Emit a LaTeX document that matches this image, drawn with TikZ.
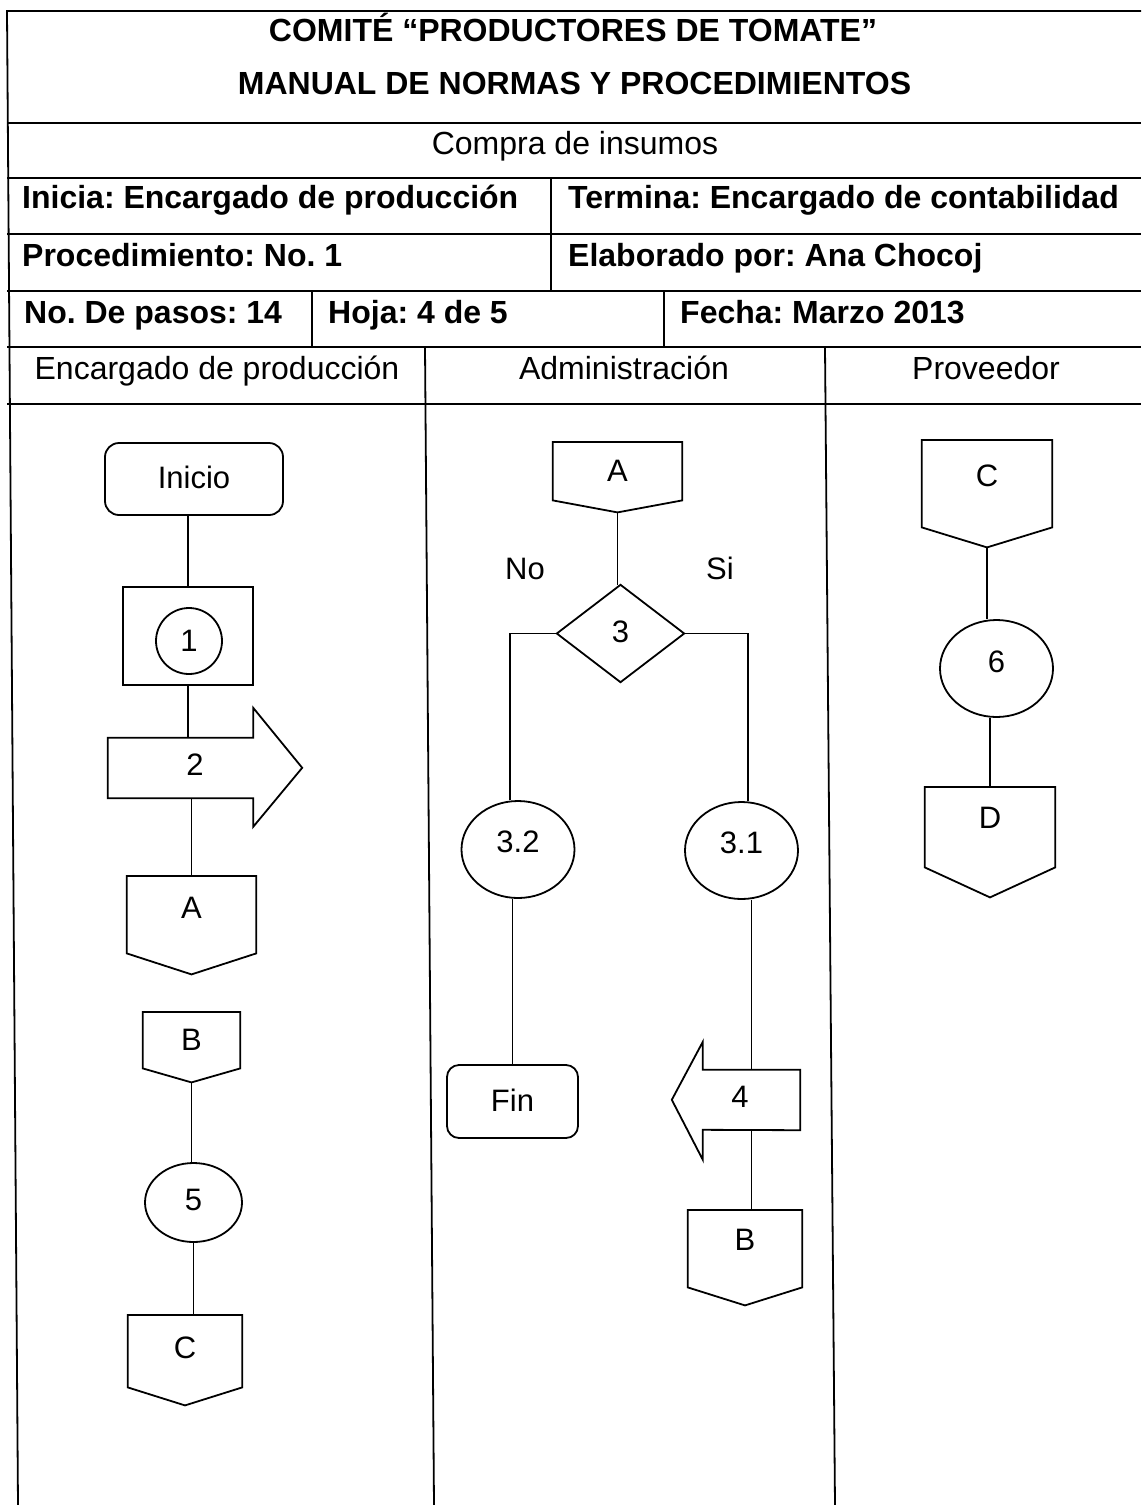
\documentclass[tikz,border=0pt]{standalone}
\usepackage{fontspec}
\setmainfont{Liberation Sans}
\usetikzlibrary{shapes.geometric,calc}
\frenchspacing

\tikzset{
  ln/.style={line width=1.8pt, black},
  hdrb/.style={font=\fontsize{32}{38}\selectfont\bfseries, inner sep=0pt},
  hdrn/.style={font=\fontsize{32}{38}\selectfont, inner sep=0pt},
  ft/.style={font=\fontsize{31}{37}\selectfont, inner sep=0pt},
  shp/.style={ft, draw, line width=1.8pt},
}

% off-page connector: #1 name, #2 centre x, #3 top y, #4 width, #5 body height, #6 tip depth, #7 text, #8 text raise (depth)
\newcommand{\opconn}[8]{%
  \node[ft, minimum width=#4, minimum height=#5, anchor=north, text depth=#8pt] (#1) at (#2,#3) {#7};
  \draw[ln, line join=miter] (#1.north west) -- (#1.north east) -- (#1.south east)
     -- ([yshift=-#6pt]#1.south) -- (#1.south west) -- cycle;
  \coordinate (#1-tip) at ([yshift=-#6pt]#1.south);
}

\begin{document}
\begin{tikzpicture}[x=1pt,y=-1pt]
\useasboundingbox (0,0) rectangle (1141,1505);

% ---------- header table ----------
\draw[ln] (18,1505) -- (7,11) -- (1141,11);
\foreach \yy in {123,178,234,291,347,404} \draw[ln] (7,\yy) -- (1141,\yy);
\draw[ln] (551,178) -- (551,291);
\draw[ln] (312,291) -- (312,347);
\draw[ln] (664,291) -- (664,347);
\draw[ln] (425,347) -- (434,1505);
\draw[ln] (825,347) -- (835,1505);

\node[hdrb, anchor=base] (t1) at (573,41.5) {COMITÉ “PRODUCTORES DE TOMATE”};
\node[hdrb, anchor=base] (t2) at (574.5,94.5) {MANUAL DE NORMAS Y PROCEDIMIENTOS};
\node[hdrn, anchor=base] (t3) at (575,154.5) {Compra de insumos};
\node[hdrb, anchor=base west] (t4) at (22,208.5) {Inicia: Encargado de producción};
\node[hdrb, anchor=base west] (t5) at (568,208.5) {Termina: Encargado de contabilidad};
\node[hdrb, anchor=base west] (t6) at (22,266.5) {Procedimiento: No. 1};
\node[hdrb, anchor=base west] (t7) at (568,266.5) {Elaborado por: Ana Chocoj};
\node[hdrb, anchor=base west] (t8) at (24,323.5) {No. De pasos: 14};
\node[hdrb, anchor=base west] (t9) at (328,323.5) {Hoja: 4 de 5};
\node[hdrb, anchor=base west] (t10) at (680,323.5) {Fecha: Marzo 2013};
\node[hdrn, anchor=base] (l1) at (217,379.5) {Encargado de producción};
\node[hdrn, anchor=base] (l2) at (624,379.5) {Administración};
\node[hdrn, anchor=base] (l3) at (986,379.5) {Proveedor};

% ---------- lane 1: Encargado de producción ----------
\node[shp, rounded corners=14pt, minimum width=178, minimum height=72, text depth=4pt] (ini) at (194,479) {Inicio};
\node[shp, minimum width=130, minimum height=98] (p1) at (188,636) {};
\node[shp, circle, minimum size=66] (c1) at (189,641) {1};
\draw[ln] (ini.south -| p1.north) -- (p1.north);

\node[ft, minimum width=145, minimum height=60, text depth=6pt] (a2) at (180.5,768) {\hspace*{29pt}2};
\draw[ln, line join=miter] (a2.north west) -- (a2.north east) -- ++(0,-30) -- ++(49,60)
   -- ++(-49,59) -- (a2.south east) -- (a2.south west) -- cycle;
\draw[ln] (p1.south) -- (p1.south |- a2.north);

\opconn{A1}{191.5}{876}{129}{77}{21}{A}{13}
\draw[ln] (A1.north |- a2.south) -- (A1.north);

\opconn{B1}{191.5}{1012}{97}{56}{14}{B}{0}
\node[shp, ellipse, minimum width=97, minimum height=79, text depth=5pt] (c5) at (193.5,1202.5) {5};
\opconn{C1}{185}{1315}{114}{72}{18}{C}{8}
\draw[ln] (B1-tip) -- (B1-tip |- c5.north);
\draw[ln] (c5.south) -- (c5.south |- C1.north);

% ---------- lane 2: Administración ----------
\opconn{A2}{617.5}{442}{129}{58}{12}{A}{0}
\node[ft, minimum width=127, minimum height=97, text depth=3pt] (d3) at (620.5,633.5) {3};
\draw[ln, line join=miter] (d3.north) -- (d3.east) -- (d3.south) -- (d3.west) -- cycle;
\draw[ln] (A2-tip) -- (A2-tip |- d3.north);
\node[ft, anchor=base] (no) at (525,579) {No};
\node[ft, anchor=base] (si) at (720,579) {Si};

\node[shp, ellipse, minimum width=113, minimum height=97, text depth=15pt] (c32) at (518,849.5) {3.2};
\node[shp, ellipse, minimum width=113, minimum height=97, text depth=15pt] (c31) at (741.5,850.5) {3.1};
\draw[ln] (d3.west) -| ([xshift=-8pt]c32.north);
\draw[ln] (d3.east) -| ([xshift=6.5pt]c31.north);

\node[shp, rounded corners=12pt, minimum width=131, minimum height=73, text depth=3pt] (fin) at (512.5,1101.5) {Fin};
\draw[ln] (c32.south -| fin.north) -- (fin.north);

\node[ft, minimum width=97, minimum height=60, text depth=6pt] (a4) at (751.5,1100) {4\hspace*{23pt}};
\draw[ln, line join=miter] (a4.north east) -- (a4.north west) -- ++(0,-28) -- ++(-31,58)
   -- ++(31,60) -- ++(0,-30) -- (a4.south east) -- cycle;
\draw[ln] (c31.south -| a4.north) -- (a4.north);

\opconn{B2}{745}{1210}{114}{77}{18}{B}{17}
\draw[ln] (a4.south) -- (a4.south |- B2.north);

% ---------- lane 3: Proveedor ----------
\opconn{C2}{987}{440}{130}{87}{20}{C}{17}
\node[shp, ellipse, minimum width=113, minimum height=97, text depth=13pt] (c6) at (996.5,668.5) {6};
\opconn{D2}{990}{787}{130}{80}{30}{D}{18}
\draw[ln] (C2-tip) -- (C2-tip |- c6.north);
\draw[ln] (c6.south -| D2.north) -- (D2.north);
\end{tikzpicture}
\end{document}
